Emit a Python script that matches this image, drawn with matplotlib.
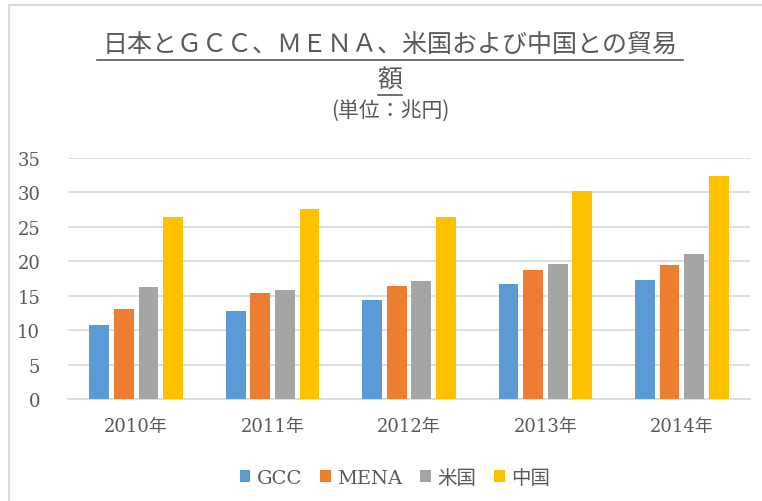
import matplotlib
matplotlib.use("Agg")
import matplotlib.pyplot as plt
import numpy as np
from matplotlib.lines import Line2D
from matplotlib.patches import Patch

years = ["2010年", "2011年", "2012年", "2013年", "2014年"]
series_names = ["GCC", "MENA", "米国", "中国"]
gcc = [10.7, 12.8, 14.4, 16.7, 17.3]
mena = [13.1, 15.4, 16.4, 18.8, 19.5]
usa = [16.2, 15.9, 17.2, 19.6, 21.1]
china = [26.4, 27.6, 26.4, 30.2, 32.4]
yticks = [0, 5, 10, 15, 20, 25, 30, 35]
colors = ["#5B9BD5", "#ED7D31", "#A5A5A5", "#FFC000"]

W, H = 762, 502
fig = plt.figure(figsize=(W / 100, H / 100), dpi=100)
fig.patch.set_facecolor("white")

fam = ["DejaVu Serif", "Noto Sans CJK JP"]
tc = "#595959"

# plot area: x 68..750, y 159..400 (pixels from top)
ax = fig.add_axes([68 / W, 1 - 400 / H, (750 - 68) / W, (400 - 159) / H])
x = np.arange(len(years))
step = 0.18
bw = 0.145
for i, (vals, c) in enumerate(zip([gcc, mena, usa, china], colors)):
    ax.bar(x + (i - 1.5) * step, vals, width=bw, color=c, zorder=3)

ax.set_xlim(-0.5, len(years) - 0.5)
ax.set_ylim(0, 35)
ax.set_yticks(yticks)
ax.set_yticklabels([str(v) for v in yticks], family=fam, fontsize=13, color=tc)
ax.set_xticks(x)
ax.set_xticklabels(years, family=fam, fontsize=13, color=tc)
ax.tick_params(axis="both", length=0)
ax.tick_params(axis="y", pad=20)
ax.tick_params(axis="x", pad=13)
ax.grid(axis="y", color="#D9D9D9", linewidth=1.2, zorder=0)
for s in ["top", "right", "left"]:
    ax.spines[s].set_visible(False)
ax.spines["bottom"].set_color("#D9D9D9")
ax.spines["bottom"].set_linewidth(1.2)

# title
cjk = ["Noto Sans CJK JP", "DejaVu Sans"]
fig.text(390 / W, 1 - 45 / H, "日本とＧＣＣ、ＭＥＮＡ、米国および中国との貿易",
         ha="center", va="center", fontsize=18, color=tc, family=cjk)
fig.text(390 / W, 1 - 81 / H, "額", ha="center", va="center",
         fontsize=18, color=tc, family=cjk)
fig.add_artist(Line2D([97 / W, 683 / W], [1 - 61 / H, 1 - 61 / H], color=tc, linewidth=1.2))
fig.add_artist(Line2D([378 / W, 402 / W], [1 - 96 / H, 1 - 96 / H], color=tc, linewidth=1.2))
fig.text(390 / W, 1 - 111 / H, "(単位：兆円)", ha="center", va="center",
         fontsize=15, color=tc, family=cjk)

# legend
handles = [Patch(facecolor=c, edgecolor="none") for c in colors]
leg = fig.legend(handles, series_names, loc="center", bbox_to_anchor=(395 / W, 1 - 479 / H),
                 ncol=4, frameon=False, handlelength=0.55, handleheight=0.55,
                 handletextpad=0.35, columnspacing=0.9,
                 prop={"family": fam, "size": 14})
for t in leg.get_texts():
    t.set_color(tc)

# chart border (top and left visible)
fig.add_artist(Line2D([9 / W, 1], [1 - 6 / H, 1 - 6 / H], color="#D9D9D9", linewidth=1.5))
fig.add_artist(Line2D([9 / W, 9 / W], [0, 1 - 6 / H], color="#D9D9D9", linewidth=1.5))

fig.savefig("out.png", dpi=100, facecolor="white")
